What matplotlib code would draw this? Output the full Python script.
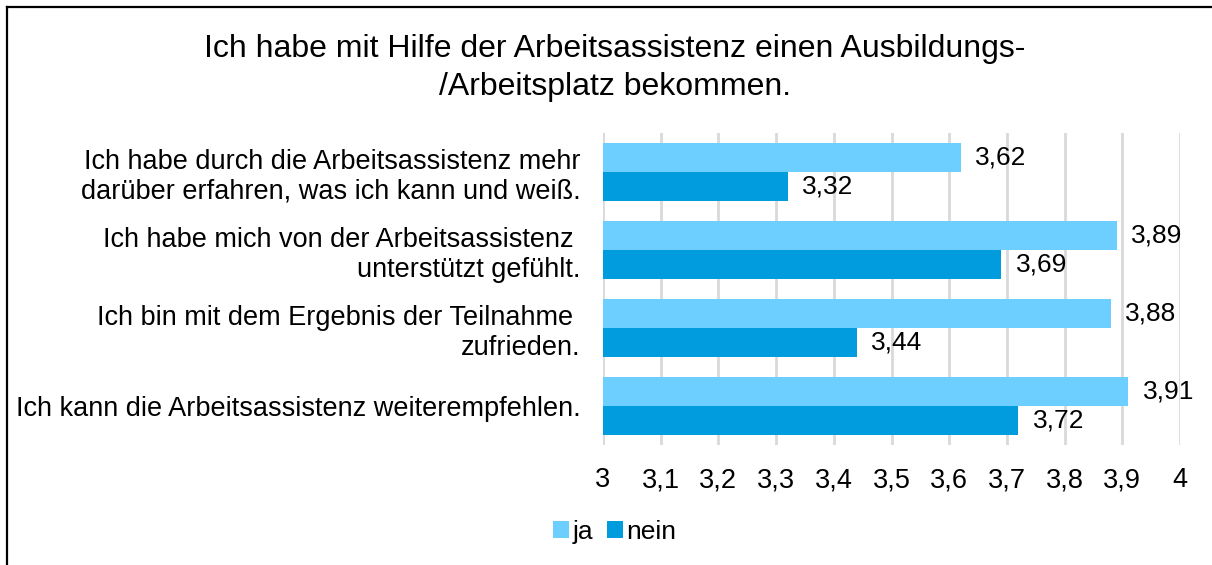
import numpy as np
import matplotlib.pyplot as plt
from matplotlib.lines import Line2D

plt.rcParams['font.family'] = ['Liberation Sans', 'DejaVu Sans']

categories = ['Ich habe durch die Arbeitsassistenz mehr\ndarüber erfahren, was ich kann und weiß.',
              'Ich habe mich von der Arbeitsassistenz \nunterstützt gefühlt.',
              'Ich bin mit dem Ergebnis der Teilnahme \nzufrieden.',
              'Ich kann die Arbeitsassistenz weiterempfehlen.']
ja = [3.62, 3.89, 3.88, 3.91]
nein = [3.32, 3.69, 3.44, 3.72]
xticks = [3.0, 3.1, 3.2, 3.3, 3.4, 3.5, 3.6, 3.7, 3.8, 3.9, 4.0]

c_ja = '#6dcfff'
c_nein = '#009cde'

fig = plt.figure(figsize=(12.12, 5.65), dpi=100)
ax = fig.add_axes([603/1212, 1 - 445/565, 577/1212, 312/565])

y = np.arange(len(categories))
h = 0.372
ax.barh(y - h/2, [v - 3 for v in ja], height=h, left=3, color=c_ja, label='ja', zorder=2)
ax.barh(y + h/2, [v - 3 for v in nein], height=h, left=3, color=c_nein, label='nein', zorder=2)

fmt = lambda v: ('%g' % v).replace('.', ',')
for yi, v in zip(y, ja):
    ax.text(v + 0.025, yi - h/2, fmt(v), va='center', ha='left', fontsize=19)
for yi, v in zip(y, nein):
    ax.text(v + 0.025, yi + h/2, fmt(v), va='center', ha='left', fontsize=19)

ax.set_xlim(3, 4)
ax.set_ylim(3.5, -0.5)
ax.set_xticks(xticks)
ax.set_xticklabels([fmt(t) for t in xticks], fontsize=19.5)
ax.set_yticks(y)
ax.set_yticklabels(categories, fontsize=19.5, linespacing=1.2)
ax.tick_params(axis='both', length=0)
ax.tick_params(axis='x', pad=16)
ax.tick_params(axis='y', pad=16)
ax.grid(axis='x', color='#d9d9d9', linewidth=2, zorder=0)
for s in ax.spines.values():
    s.set_visible(False)

fig.text(615/1212, 1 - 68/565, 'Ich habe mit Hilfe der Arbeitsassistenz einen Ausbildungs-\n/Arbeitsplatz bekommen.',
         ha='center', va='center', fontsize=23, linespacing=1.35)

fig.legend(loc='center', bbox_to_anchor=(615/1212, 1 - 532/565), ncol=2, frameon=False,
           fontsize=19, handlelength=0.6, handleheight=0.6, handletextpad=0.15, columnspacing=0.5)

# outer frame (left and top edges visible)
fig.add_artist(Line2D([7/1212, 7/1212], [0, 1 - 7/565], color='black', linewidth=1.6, transform=fig.transFigure))
fig.add_artist(Line2D([7/1212, 1], [1 - 7/565, 1 - 7/565], color='black', linewidth=1.6, transform=fig.transFigure))

fig.savefig('out.png', dpi=100)
